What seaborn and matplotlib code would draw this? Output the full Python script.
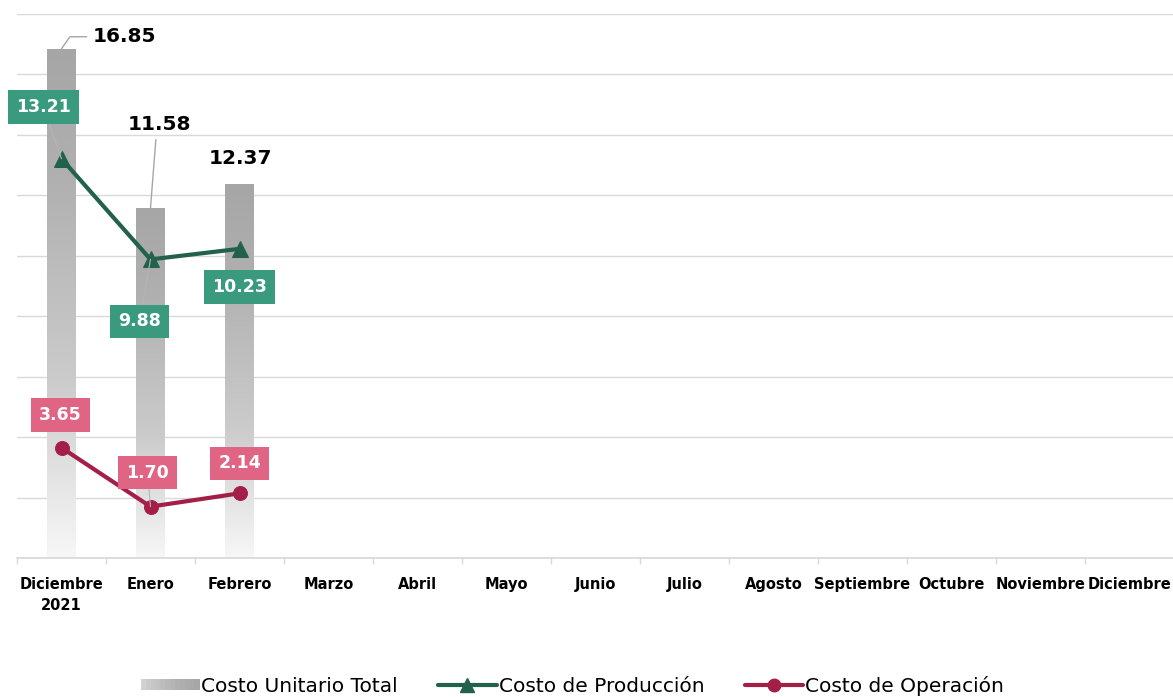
"""
Costo unitario: total (barras) vs produccion y operacion (lineas)
"""

import numpy as np
import pandas as pd
import matplotlib
matplotlib.use("Agg")
import matplotlib.pyplot as plt
from matplotlib.colors import LinearSegmentedColormap
from matplotlib.legend_handler import HandlerBase
from matplotlib.patches import Rectangle
from matplotlib.lines import Line2D
import seaborn as sns

# data
meses = ["Diciembre\n2021", "Enero", "Febrero", "Marzo", "Abril", "Mayo", "Junio",
         "Julio", "Agosto", "Septiembre", "Octubre", "Noviembre", "Diciembre"]
costo_total = [16.85, 11.58, 12.37]
costo_produccion = [13.21, 9.88, 10.23]
costo_operacion = [3.65, 1.70, 2.14]

# label offsets in pixels (dx, dy) relative to the point
off_total = [(63, 12), (9, 84), (1, 26)]
off_prod = [(-18, 52), (-11, -62), (0, -38)]
off_oper = [(-1, 33), (-3, 34), (0, 30)]
# which box labels get a leader line
lider_prod = [True, True, False]
lider_oper = [False, True, False]

VERDE = "#22614b"
VERDE_BOX = "#3a9a7e"
GUINDA = "#a31f48"
ROSA_BOX = "#e06585"
GRID = "#d9d9d9"

sns.set_theme(style="white")
plt.rcParams["font.family"] = ["DejaVu Sans"]

DPI = 100
fig = plt.figure(figsize=(11.73, 6.97), dpi=DPI)
ax = fig.add_axes([17 / 1173, 139 / 697, 1157 / 1173, 544 / 697])

df = pd.DataFrame({"mes": meses[:len(costo_total)], "total": costo_total})
sns.barplot(data=df, x="mes", y="total", order=meses, width=0.32,
            color="#a6a6a6", ax=ax, zorder=2)

# gradient fill for the bars
grad = LinearSegmentedColormap.from_list(
    "gris", [(0, "#f7f7f7"), (0.35, "#cbcbcb"), (0.75, "#b0b0b0"), (1, "#a6a6a6")])
for p in list(ax.patches):
    x0, y0 = p.get_x(), p.get_y()
    w, h = p.get_width(), p.get_height()
    if np.isnan(h) or h == 0:
        continue
    p.set_facecolor("none")
    p.set_edgecolor("none")
    img = ax.imshow(np.linspace(0, 1, 256).reshape(-1, 1), cmap=grad, origin="lower",
                    extent=[x0, x0 + w, y0, y0 + h], aspect="auto", zorder=2)
    img.set_clip_path(p)

pos = np.arange(len(costo_total))
sns.lineplot(x=pos, y=costo_produccion, color=VERDE, lw=3, marker="^",
             markersize=12, markeredgecolor=VERDE, ax=ax, zorder=4)
sns.lineplot(x=pos, y=costo_operacion, color=GUINDA, lw=3, marker="o",
             markersize=10, markeredgecolor=GUINDA, ax=ax, zorder=4)

px = 72 / DPI  # pixels -> points

# black labels for total, with leader lines like excel
conn = ["angle,angleA=0,angleB=55,rad=0", "arc3,rad=0", None]
for i, v in enumerate(costo_total):
    dx, dy = off_total[i]
    arrow = None
    if conn[i]:
        arrow = dict(arrowstyle="-", color="#a6a6a6", lw=1, shrinkA=2, shrinkB=0,
                     connectionstyle=conn[i], relpos=(0, 0.5) if i == 0 else (0.45, 0))
    ax.annotate(f"{v:.2f}", (i, v), xytext=(dx * px, dy * px), textcoords="offset points",
                ha="center", va="center", fontsize=14.5, fontweight="bold",
                color="black", zorder=6, arrowprops=arrow)

for vals, offs, lider, box in [(costo_produccion, off_prod, lider_prod, VERDE_BOX),
                               (costo_operacion, off_oper, lider_oper, ROSA_BOX)]:
    for i, v in enumerate(vals):
        dx, dy = offs[i]
        arrow = None
        if lider[i]:
            arrow = dict(arrowstyle="-", color="#b5b5b5", lw=0.8, shrinkA=0, shrinkB=0)
        ax.annotate(f"{v:.2f}", (i, v), xytext=(dx * px, dy * px), textcoords="offset points",
                    ha="center", va="center", fontsize=12.5, fontweight="bold",
                    color="white", zorder=7, arrowprops=arrow,
                    bbox=dict(boxstyle="square,pad=0.45", fc=box, ec="none"))

ax.set_ylim(0, 18)
ax.set_xlim(-0.5, len(meses) - 0.5)
ax.set_yticks(np.arange(0, 19, 2))
ax.set_yticklabels([])
ax.tick_params(axis="y", length=0)
ax.grid(axis="y", color=GRID, lw=1, zorder=0)
ax.set_axisbelow(True)
for s in ["top", "right", "left"]:
    ax.spines[s].set_visible(False)
ax.spines["bottom"].set_color(GRID)
ax.set_xlabel("")
ax.set_ylabel("")
ax.set_xticks(np.arange(len(meses)))
ax.set_xticklabels(meses, fontsize=10.5, fontweight="bold", color="black",
                   linespacing=1.5)
ax.tick_params(axis="x", which="major", length=0, pad=14)
ax.set_xticks(np.arange(len(meses) + 1) - 0.5, minor=True)
ax.tick_params(axis="x", which="minor", length=4, color=GRID, width=1, bottom=True)


class GradientHandler(HandlerBase):
    def create_artists(self, legend, orig, xdescent, ydescent, width, height, fontsize, trans):
        n = 12
        arts = []
        for k in range(n):
            c = grad(0.3 + 0.7 * k / (n - 1))
            r = Rectangle((xdescent + width * k / n, ydescent + height * 0.1),
                          width / n + 0.5, height * 0.8, fc=c, ec="none", transform=trans)
            arts.append(r)
        return arts


h_total = Rectangle((0, 0), 1, 1)
h_prod = Line2D([], [], color=VERDE, lw=3, marker="^", markersize=10)
h_oper = Line2D([], [], color=GUINDA, lw=3, marker="o", markersize=9)
fig.legend([h_total, h_prod, h_oper],
           ["Costo Unitario Total", "Costo de Producción", "Costo de Operación"],
           handler_map={h_total: GradientHandler()},
           loc="lower center", bbox_to_anchor=(0.488, -0.024), ncol=3, frameon=False,
           prop={"size": 14.5}, labelcolor="black", handlelength=2.9,
           handletextpad=0.1, columnspacing=2.0)

fig.savefig("out.png", dpi=DPI)
